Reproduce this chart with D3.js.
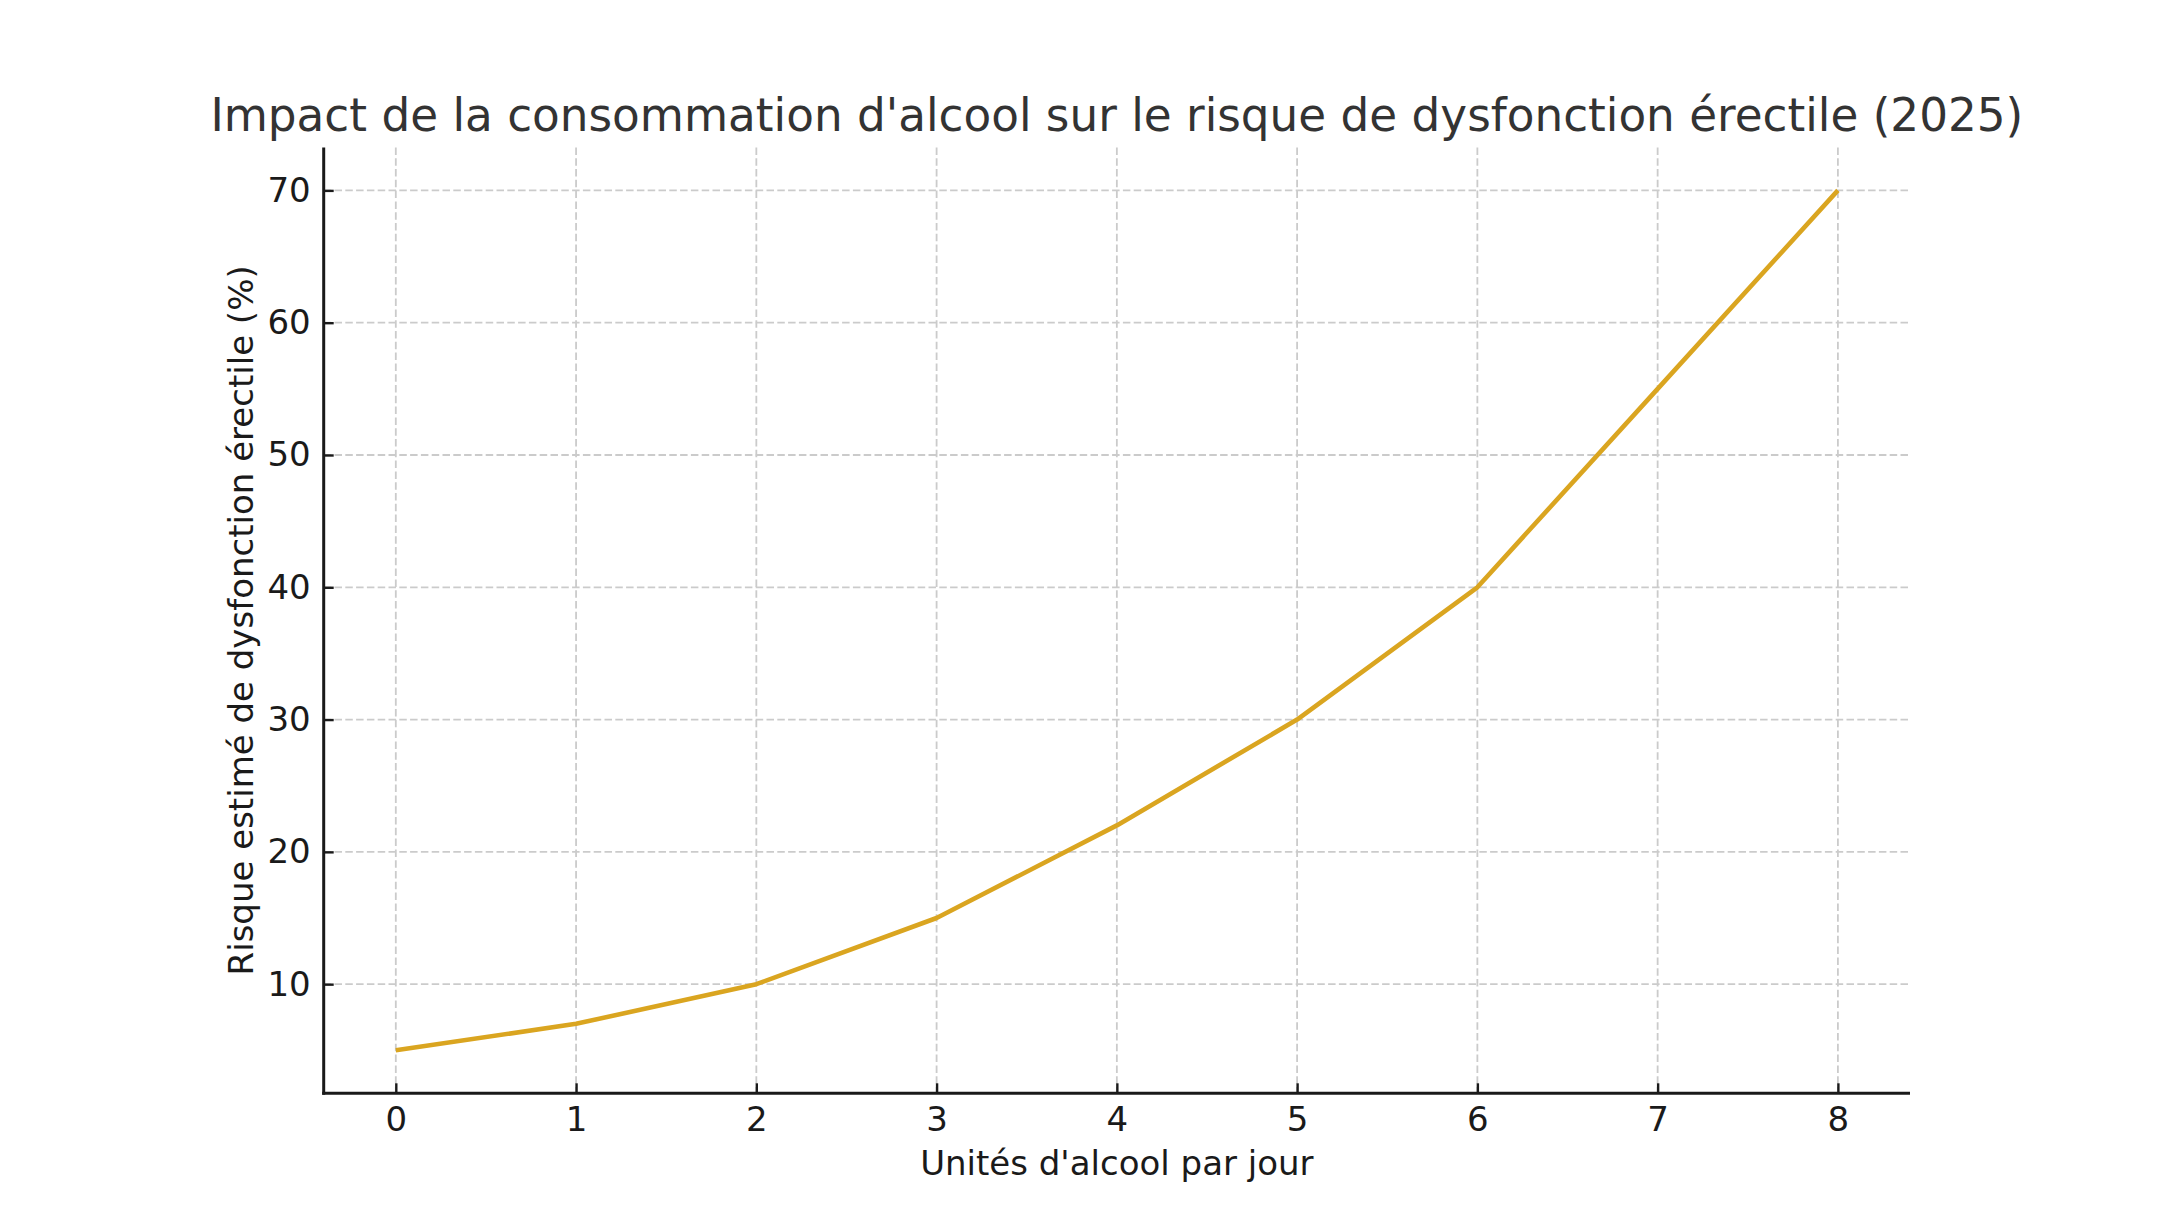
<!DOCTYPE html>
<html>
<head>
<meta charset="utf-8">
<script src="https://cdn.jsdelivr.net/npm/d3@7"></script>
<style>
  html, body { margin: 0; padding: 0; background: #fff; }
  svg { display: block; font-family: "DejaVu Sans", sans-serif; }
</style>
</head>
<body>
<svg id="chart" width="2183" height="1228"></svg>
<script>
const units = [0, 1, 2, 3, 4, 5, 6, 7, 8];
const risk = [5, 7, 10, 15, 22, 30, 40, 55, 70];
const xTicks = [0, 1, 2, 3, 4, 5, 6, 7, 8];
const yTicks = [10, 20, 30, 40, 50, 60, 70];
const titleText = "Impact de la consommation d'alcool sur le risque de dysfonction érectile (2025)";
const xLabelText = "Unités d'alcool par jour";
const yLabelText = "Risque estimé de dysfonction érectile (%)";

const W = 2183, H = 1228;
const plotLeft = 323.7, plotRight = 1910, plotTop = 147.4, plotBottom = 1093.3;

const svg = d3.select("#chart");
svg.append("rect").attr("width", W).attr("height", H).attr("fill", "#fff");

const xPad = (d3.max(units) - d3.min(units)) * 0.05;
const yPad = (d3.max(risk) - d3.min(risk)) * 0.05;
const x = d3.scaleLinear().domain([d3.min(units) - xPad, d3.max(units) + xPad]).range([plotLeft, plotRight]);
const y = d3.scaleLinear().domain([d3.min(risk) - yPad, d3.max(risk) + yPad]).range([plotBottom, plotTop]);

// grid
const grid = svg.append("g").attr("stroke", "#cbcbcb").attr("stroke-width", 1.8).attr("stroke-dasharray", "7.5,3.3");
grid.selectAll("line.v").data(xTicks).join("line").attr("class", "v")
  .attr("x1", d => x(d)).attr("x2", d => x(d)).attr("y1", plotTop).attr("y2", plotBottom);
grid.selectAll("line.h").data(yTicks).join("line").attr("class", "h")
  .attr("x1", plotLeft).attr("x2", plotRight).attr("y1", d => y(d)).attr("y2", d => y(d));

// line
const line = d3.line().x((d, i) => x(units[i])).y(d => y(d));
svg.append("path").datum(risk).attr("d", line)
  .attr("fill", "none").attr("stroke", "#DAA520").attr("stroke-width", 4.6)
  .attr("stroke-linejoin", "round").attr("stroke-linecap", "butt");

// axes
const xAxis = d3.axisBottom(x).tickValues(xTicks).tickSize(-10).tickPadding(13.6).tickFormat(d3.format("d"));
const yAxis = d3.axisLeft(y).tickValues(yTicks).tickSize(-10).tickPadding(13).tickFormat(d3.format("d"));

const gx = svg.append("g").attr("transform", `translate(0,${plotBottom})`).call(xAxis);
const gy = svg.append("g").attr("transform", `translate(${plotLeft},0)`).call(yAxis);

[gx, gy].forEach(g => {
  g.select(".domain").remove();
  g.selectAll(".tick line").attr("stroke", "#1a1a1a").attr("stroke-width", 2.4);
  g.selectAll(".tick text").attr("fill", "#1a1a1a").style("font-size", "34px").style("font-family", "DejaVu Sans");
});
gx.selectAll(".tick text").attr("dy", "0.71em");

// spines
svg.append("line").attr("x1", plotLeft).attr("x2", plotLeft).attr("y1", plotTop).attr("y2", plotBottom + 1.5)
  .attr("stroke", "#1a1a1a").attr("stroke-width", 3);
svg.append("line").attr("x1", plotLeft - 1.5).attr("x2", plotRight).attr("y1", plotBottom).attr("y2", plotBottom)
  .attr("stroke", "#1a1a1a").attr("stroke-width", 3);

// title
svg.append("text").attr("x", (plotLeft + plotRight) / 2).attr("y", 131)
  .attr("text-anchor", "middle").attr("fill", "#333333")
  .style("font-size", "45.3px").text(titleText);

// x label
svg.append("text").attr("x", (plotLeft + plotRight) / 2).attr("y", 1175)
  .attr("text-anchor", "middle").attr("fill", "#1a1a1a")
  .style("font-size", "34px").text(xLabelText);

// y label
svg.append("text").attr("transform", `translate(253,${(plotTop + plotBottom) / 2}) rotate(-90)`)
  .attr("text-anchor", "middle").attr("fill", "#1a1a1a")
  .style("font-size", "34px").text(yLabelText);
</script>
</body>
</html>
